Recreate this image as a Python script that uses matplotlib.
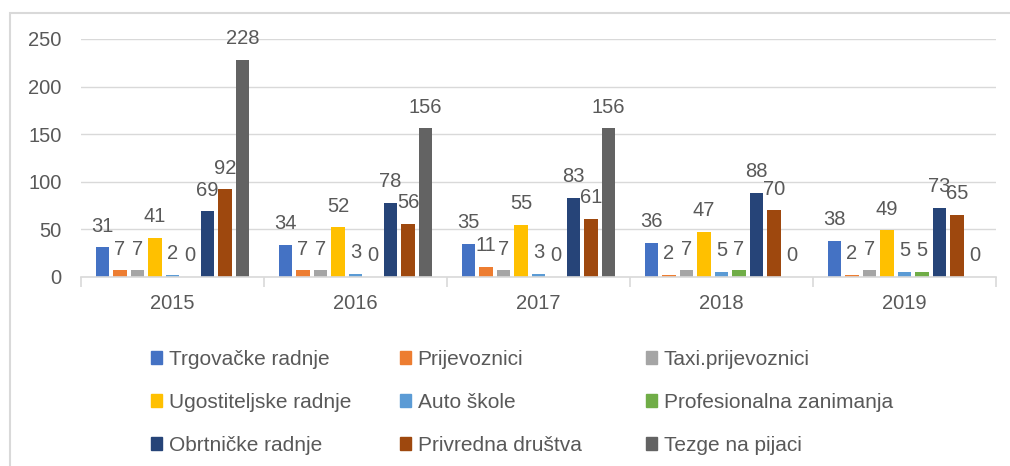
import numpy as np
import matplotlib
matplotlib.use("Agg")
import matplotlib.pyplot as plt
from matplotlib.patches import Rectangle, Patch

YEARS = ["2015", "2016", "2017", "2018", "2019"]
SERIES = ["Trgovačke radnje", "Prijevoznici", "Taxi.prijevoznici",
          "Ugostiteljske radnje", "Auto škole", "Profesionalna zanimanja",
          "Obrtničke radnje", "Privredna društva", "Tezge na pijaci"]
trgovacke = [31, 34, 35, 36, 38]
prijevoznici = [7, 7, 11, 2, 2]
taxi = [7, 7, 7, 7, 7]
ugostiteljske = [41, 52, 55, 47, 49]
auto_skole = [2, 3, 3, 5, 5]
profesionalna = [0, 0, 0, 7, 5]
obrtnicke = [69, 78, 83, 88, 73]
privredna = [92, 56, 61, 70, 65]
tezge = [228, 156, 156, 0, 0]
VALUES = [trgovacke, prijevoznici, taxi, ugostiteljske, auto_skole,
          profesionalna, obrtnicke, privredna, tezge]
COLORS = ["#4472C4", "#ED7D31", "#A5A5A5", "#FFC000", "#5B9BD5",
          "#70AD47", "#264478", "#9E480E", "#636363"]

FONT = "Liberation Sans"
FS = 14.5
LEG_FS = 15
TXT = "#595959"

plt.rcParams["font.family"] = [FONT, "DejaVu Sans"]

fig = plt.figure(figsize=(10.10, 4.66), dpi=100)
W, H = 1010, 466
ax = fig.add_axes([81 / W, 1 - 277 / H, (996 - 81) / W, (277 - 39) / H])

x = np.arange(len(YEARS))
slot = 0.0956
width = 0.074
handles = []
for i, (name, vals, col) in enumerate(zip(SERIES, VALUES, COLORS)):
    bars = ax.bar(x + (i - 4) * slot, vals, width, color=col, label=name)
    ax.bar_label(bars, padding=8.5, fontsize=FS, color=TXT)
    handles.append(Patch(color=col, label=name))

ax.set_xlim(-0.5, len(YEARS) - 0.5)
ax.set_ylim(0, 250)
ax.set_yticks(range(0, 251, 50))
ax.yaxis.grid(True, color="#d9d9d9", lw=1)
ax.set_axisbelow(True)
for s in ("top", "right", "left"):
    ax.spines[s].set_visible(False)
ax.spines["bottom"].set_color("#d9d9d9")
ax.spines["bottom"].set_linewidth(1.2)

ax.set_xticks(x, YEARS)
ax.set_xticks(np.arange(-0.5, len(YEARS)), minor=True)
ax.tick_params(axis="x", which="major", length=0, pad=12, labelsize=FS,
               labelcolor=TXT)
ax.tick_params(axis="x", which="minor", length=7, color="#d9d9d9", width=1.2)
ax.tick_params(axis="y", length=0, pad=14, labelsize=FS, labelcolor=TXT)

# outer chart border
fig.add_artist(Rectangle((10 / W, -0.05), 1.2, 1.05 - 13 / H,
                         transform=fig.transFigure, fill=False,
                         edgecolor="#d9d9d9", lw=1.5))

# legend: three columns, three rows each (row-wise order)
col_x = [151, 400, 646]
for c in range(3):
    fig.legend(handles=handles[c::3], loc="upper left",
               bbox_to_anchor=(col_x[c] / W, 1 - 350 / H),
               frameon=False, fontsize=LEG_FS, labelcolor=TXT,
               handlelength=0.55, handleheight=0.55, handletextpad=0.3,
               labelspacing=1.15, borderpad=0, borderaxespad=0)

fig.savefig("out.png", dpi=100)
